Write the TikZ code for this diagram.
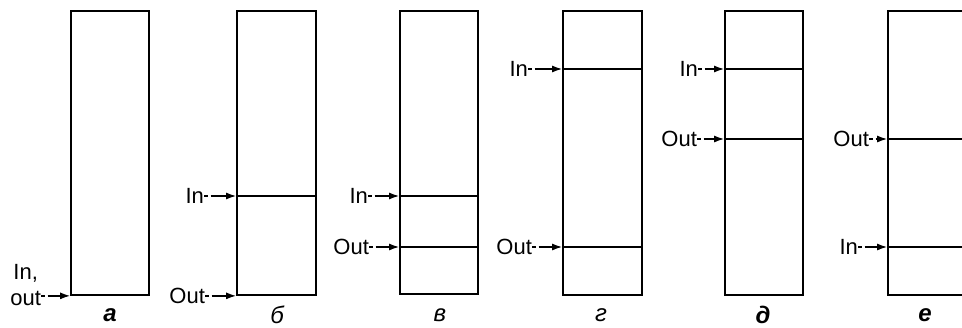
\documentclass[tikz,border=0pt]{standalone}
\usepackage{fontspec}
\setmainfont{Liberation Sans}
\usetikzlibrary{arrows.meta, positioning}

\tikzset{
  tank/.style={draw, line width=1.7pt, minimum width=78pt, minimum height=284pt, inner sep=0pt},
  level/.style={line width=1.5pt},
  feed/.style={line width=1.4pt, dash pattern=on 4pt off 2.5pt on 60pt, -{Latex[length=10pt,width=7pt]}},
  port/.style={font=\fontsize{22}{26}\selectfont, inner sep=0pt},
  caption/.style={font=\fontsize{24}{26}\selectfont\itshape},
  boldcaption/.style={font=\fontsize{24}{26}\selectfont\itshape\bfseries}
}

\begin{document}
\begin{tikzpicture}[x=1pt, y=-1pt]
\useasboundingbox (0,0) rectangle (962,327);
\clip (0,0) rectangle (962,327);

% tanks
\node[tank] (ta) at (110,153) {};
\node[tank, minimum width=79pt] (tb) at (276.5,153) {};
\node[tank, minimum height=283pt] (tc) at (439,152.5) {};
\node[tank, minimum width=79pt] (td) at (602.5,153) {};
\node[tank] (te) at (764,153) {};
\node[tank] (tf) at (927,153) {};

% a
\node[port, align=center, anchor=south east] (ain) at ([xshift=-29pt, yshift=-10pt]ta.south west) {In,\\out};
\draw[feed] (ain.east |- ta.south west) -- (ta.south west);

% b
\coordinate (bi) at (tb.west |- 0,196);
\draw[level] (bi) -- (tb.east |- bi);
\node[port, left=32pt of bi] (bin) {In};
\draw[feed] (bin) -- (bi);
\node[port, left=31pt of tb.south west] (bout) {Out};
\draw[feed] (bout) -- (tb.south west);

% c
\coordinate (ci) at (tc.west |- 0,196);
\coordinate (co) at (tc.west |- 0,247);
\draw[level] (ci) -- (tc.east |- ci);
\draw[level] (co) -- (tc.east |- co);
\node[port, left=31pt of ci] (cin) {In};
\draw[feed] (cin) -- (ci);
\node[port, left=30pt of co] (cout) {Out};
\draw[feed] (cout) -- (co);

% d
\coordinate (di) at (td.west |- 0,69);
\coordinate (do) at (td.west |- 0,247);
\draw[level] (di) -- (td.east |- di);
\draw[level] (do) -- (td.east |- do);
\node[port, left=34pt of di] (din) {In};
\draw[feed] (din) -- (di);
\node[port, left=30pt of do] (dout) {Out};
\draw[feed] (dout) -- (do);

% e
\coordinate (ei) at (te.west |- 0,69);
\coordinate (eo) at (te.west |- 0,139);
\draw[level] (ei) -- (te.east |- ei);
\draw[level] (eo) -- (te.east |- eo);
\node[port, left=26pt of ei] (ein) {In};
\draw[feed] (ein) -- (ei);
\node[port, left=27pt of eo] (eout) {Out};
\draw[feed] (eout) -- (eo);

% f
\coordinate (fo) at (tf.west |- 0,139);
\coordinate (fi) at (tf.west |- 0,247);
\draw[level] (fo) -- (tf.east |- fo);
\draw[level] (fi) -- (tf.east |- fi);
\node[port, left=18pt of fo] (fout) {Out};
\draw[feed] (fout) -- (fo);
\node[port, left=29pt of fi] (fin) {In};
\draw[feed] (fin) -- (fi);

% captions
\node[boldcaption] (ca) at (110,315) {а};
\node[caption] (cb) at (277,315) {б};
\node[caption] (cc) at (440,315) {в};
\node[caption] (cd) at (601,315) {г};
\node[boldcaption] (ce) at (763,315) {д};
\node[boldcaption] (cf) at (925,315) {е};
\end{tikzpicture}
\end{document}
